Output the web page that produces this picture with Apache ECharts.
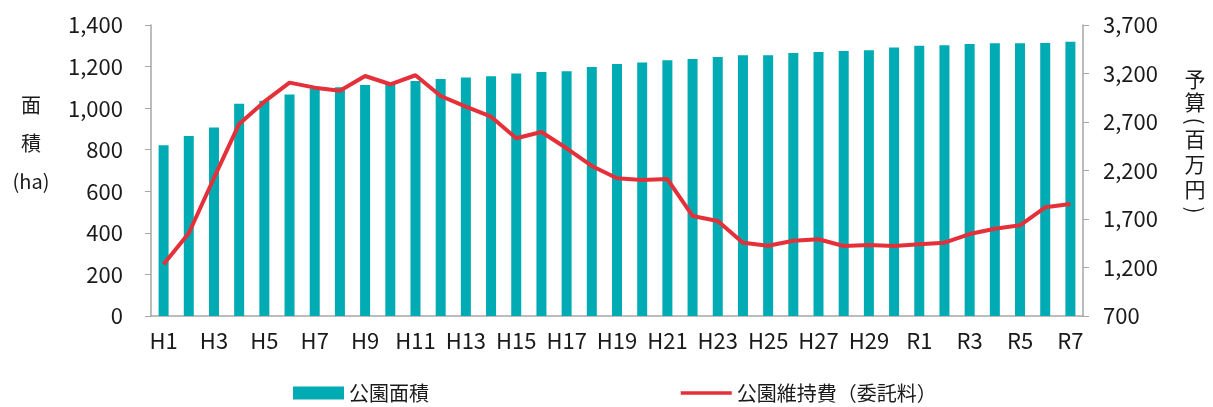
<!DOCTYPE html>
<html>
<head>
<meta charset="utf-8">
<script src="https://cdn.jsdelivr.net/npm/echarts@6/dist/echarts.min.js"></script>
<style>
  html, body { margin: 0; padding: 0; background: #fff; }
  #main { width: 1213px; height: 407px; }
</style>
</head>
<body>
<div id="main"></div>
<script>
// 年度
var years = ['H1','H2','H3','H4','H5','H6','H7','H8','H9','H10',
  'H11','H12','H13','H14','H15','H16','H17','H18','H19','H20',
  'H21','H22','H23','H24','H25','H26','H27','H28','H29','H30',
  'R1','R2','R3','R4','R5','R6','R7'];

// 公園面積 (ha)
var parkArea = [822, 866, 907, 1021, 1035, 1066, 1095, 1100, 1111, 1115,
  1130, 1140, 1148, 1154, 1167, 1174, 1178, 1198, 1212, 1220,
  1231, 1236, 1246, 1254, 1255, 1265, 1270, 1275, 1278, 1292,
  1300, 1303, 1308, 1312, 1312, 1313, 1319];

// 公園維持費（委託料）(百万円)
var maintCost = [1233, 1553, 2123, 2680, 2910, 3106, 3054, 3023, 3174, 3089,
  3182, 2968, 2858, 2755, 2532, 2597, 2429, 2247, 2120, 2102,
  2112, 1731, 1679, 1456, 1425, 1476, 1491, 1422, 1432, 1422,
  1439, 1456, 1545, 1600, 1635, 1821, 1855];

var FONT = '"Noto Sans CJK JP", "Noto Sans", sans-serif';
var axisGray = '#a6a6a6';

var chart = echarts.init(document.getElementById('main'));
var option = {
  animation: false,
  textStyle: { fontFamily: FONT, color: '#1a1a1a' },
  grid: { left: 151, right: 130, top: 25, bottom: 91 },
  legend: {
    top: 378,
    left: 288,
    itemGap: 250,
    itemWidth: 51,
    itemHeight: 13,
    textStyle: { fontSize: 20, fontFamily: FONT, color: '#1a1a1a' },
    data: [
      { name: '公園面積', icon: 'rect' },
      { name: '公園維持費（委託料）', itemStyle: { opacity: 0 }, lineStyle: { width: 3.5 } }
    ]
  },
  xAxis: {
    type: 'category',
    data: years,
    axisLine: { lineStyle: { color: axisGray, width: 1.5 } },
    axisTick: { interval: 1, length: 6, lineStyle: { color: axisGray } },
    axisLabel: { interval: 1, fontSize: 22, margin: 14, color: '#1a1a1a', fontFamily: FONT }
  },
  yAxis: [
    {
      type: 'value',
      min: 0, max: 1400, interval: 200,
      axisLine: { show: true, lineStyle: { color: axisGray, width: 1.5 } },
      axisTick: { show: true, length: 6, lineStyle: { color: axisGray } },
      splitLine: { show: false },
      axisLabel: { fontSize: 22, margin: 28, color: '#1a1a1a', fontFamily: FONT,
        formatter: function (v) { return v.toLocaleString('en-US'); } }
    },
    {
      type: 'value',
      min: 700, max: 3700, interval: 500,
      axisLine: { show: true, lineStyle: { color: axisGray, width: 1.5 } },
      axisTick: { show: true, length: 6, lineStyle: { color: axisGray } },
      splitLine: { show: false },
      axisLabel: { fontSize: 22, margin: 20, color: '#1a1a1a', fontFamily: FONT,
        formatter: function (v) { return v.toLocaleString('en-US'); } }
    }
  ],
  series: [
    {
      name: '公園面積',
      type: 'bar',
      data: parkArea,
      barWidth: 10,
      itemStyle: { color: '#00abb3' }
    },
    {
      name: '公園維持費（委託料）',
      type: 'line',
      yAxisIndex: 1,
      data: maintCost,
      symbol: 'none',
      lineStyle: { color: '#e5303a', width: 4 },
      itemStyle: { color: '#e5303a' }
    }
  ],
  graphic: [
    {
      type: 'text', x: 31, y: 86,
      style: { text: '面\n積\n(ha)', fontSize: 20, lineHeight: 38, align: 'center',
        fontFamily: FONT, fill: '#1a1a1a' }
    },
    {
      type: 'text', x: 1195, y: 68,
      style: { text: '予\n算', fontSize: 21, lineHeight: 23, align: 'center',
        fontFamily: FONT, fill: '#1a1a1a' }
    },
    {
      type: 'text', x: 1195, y: 121, rotation: -Math.PI / 2,
      style: { text: '(', fontSize: 21, align: 'center', verticalAlign: 'middle',
        fontFamily: FONT, fill: '#1a1a1a' }
    },
    {
      type: 'text', x: 1195, y: 127,
      style: { text: '百\n万\n円', fontSize: 21, lineHeight: 25, align: 'center',
        fontFamily: FONT, fill: '#1a1a1a' }
    },
    {
      type: 'text', x: 1195, y: 210, rotation: -Math.PI / 2,
      style: { text: ')', fontSize: 21, align: 'center', verticalAlign: 'middle',
        fontFamily: FONT, fill: '#1a1a1a' }
    }
  ]
};
chart.setOption(option);
</script>
</body>
</html>
